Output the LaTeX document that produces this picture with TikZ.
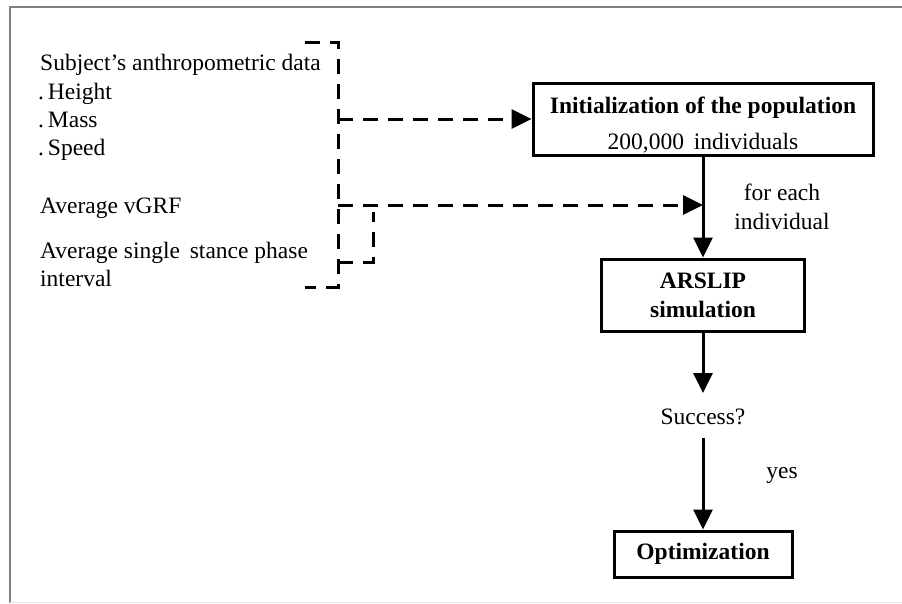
\documentclass[tikz,border=0pt]{standalone}
\usepackage{fontspec}
\setmainfont{Liberation Serif}
\usetikzlibrary{arrows.meta}
\begin{document}
\begin{tikzpicture}[x=1pt,y=-1pt,
  box/.style={draw,line width=3pt,align=center,inner sep=0pt,font=\fontsize{23.5}{29}\selectfont},
  lbl/.style={anchor=base west,inner sep=0pt,font=\fontsize{23.5}{28}\selectfont},
  clbl/.style={align=center,inner sep=0pt,font=\fontsize{23.5}{29}\selectfont},
  solidarrow/.style={line width=3pt,-{Triangle[length=20pt,width=19pt]}},
  dasharrow/.style={line width=3pt,dash pattern=on 15pt off 10pt,-{Triangle[length=20pt,width=19pt]}},
  dashline/.style={line width=3pt,dash pattern=on 15pt off 10pt}]
\useasboundingbox (0,0) rectangle (902,603);
% frame
\draw[gray,line width=2.5pt] (10,603) -- (10,7) -- (902,7);
\draw[gray!20,line width=1pt] (10,602) -- (902,602);
% left texts
\node[lbl] (t1) at (40,70) {Subject’s anthropometric data};
\node[lbl] (t2) at (38,99) {.\,Height};
\node[lbl] (t3) at (38,127) {.\,Mass};
\node[lbl] (t4) at (38,155) {.\,Speed};
\node[lbl] (t5) at (40,213) {Average vGRF};
\node[lbl] (t6) at (40,258) {Average single\, stance phase};
\node[lbl] (t7) at (40,286) {interval};
% boxes
\node[box,minimum width=340pt,minimum height=72pt] (init) at (703,119) {};
\node[clbl] (inittxt) at (703,125) {\textbf{Initialization of the population}\\[7pt]200,000\, individuals};
\node[box,minimum width=203pt,minimum height=72pt] (sim) at (703,295) {\textbf{ARSLIP}\\\textbf{simulation}};
\node[clbl] (succ) at (703,417) {Success?};
\node[box,minimum width=178pt,minimum height=46pt] (opt) at (703,554) {\textbf{Optimization}};
\node[clbl] (each) at (782,207) {for each\\individual};
\node[clbl] (yes) at (782,475) {yes};
% coordinates for bracket
\coordinate (btop) at (305,42);
\coordinate (btr) at (338,42);
\coordinate (bbot) at (305,287);
\coordinate (bbr) at (338,287);
\coordinate (b1) at (338,119);
\coordinate (b2) at (338,205);
\coordinate (s1) at (338,262);
\coordinate (s2) at (373,262);
\coordinate (s3) at (373,212);
\coordinate (m) at (703,205);
% dashed bracket
\draw[dashline] (btop) -- (btr) -- (bbr) -- (bbot);
\draw[dashline] (s1) -- (s2) -- (s3);
\draw[dasharrow] (b1) -- (init.west);
\draw[dasharrow] (b2) -- (m);
% solid arrows
\draw[solidarrow] (init.south) -- (sim.north);
\draw[solidarrow] (sim.south) -- (703,393);
\draw[solidarrow] (703,438) -- (opt.north);
\end{tikzpicture}
\end{document}
